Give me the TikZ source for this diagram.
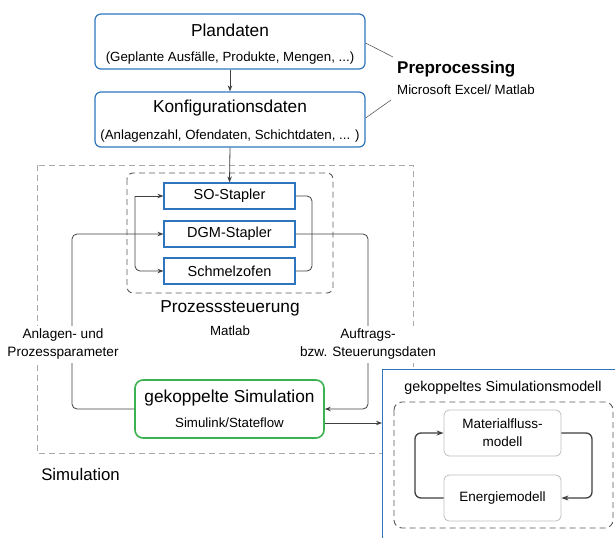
\documentclass[tikz,border=0pt]{standalone}
\usepackage{fontspec}
\setmainfont{Liberation Sans}
\usetikzlibrary{arrows.meta}
\definecolor{bl}{RGB}{46,117,190}
\definecolor{gr}{RGB}{60,178,80}
\definecolor{dk}{RGB}{64,64,64}
\definecolor{lg}{RGB}{170,170,170}
\definecolor{mg}{RGB}{90,90,90}
\definecolor{bx}{RGB}{190,190,190}
\newcommand{\fs}[1]{\fontsize{#1pt}{#1pt}\selectfont\baselineskip=1.2\baselineskip}
\tikzset{
  datbox/.style={draw=bl, line width=1.2pt, rounded corners=6pt, minimum width=270pt, minimum height=55pt, inner sep=0pt},
  stapbox/.style={draw=bl, line width=1.1pt, fill=white, minimum width=131pt, minimum height=26pt, inner sep=0pt, font=\fs{14.5}},
  simbox/.style={draw=gr, line width=1.6pt, rounded corners=8pt, minimum width=189pt, minimum height=58pt, inner sep=0pt},
  modbox/.style={draw=bx, line width=0.8pt, rounded corners=5pt, fill=white, minimum width=117pt, minimum height=46pt, inner sep=0pt, font=\fs{13.5}, align=center},
  conn/.style={draw=dk, line width=0.8pt, rounded corners=5pt},
  arr/.style={conn, -{Stealth[length=6pt,width=4.5pt]}},
  thickarr/.style={draw=dk, line width=1.3pt, rounded corners=6pt, -{Stealth[length=7pt,width=5pt]}},
  lbl/.style={inner sep=0pt, align=center},
  whitelbl/.style={fill=white, inner sep=0pt, align=center, font=\fs{13.6}},
}
\begin{document}
\begin{tikzpicture}[x=1pt,y=-1pt]
\useasboundingbox (0,0) rectangle (615,538);
% outer simulation dashed frame
\draw[lg, line width=0.9pt, dash pattern=on 6pt off 4pt] (37,165) rectangle (413,453);
% Prozesssteuerung dashed frame
\draw[mg, line width=0.9pt, dash pattern=on 6pt off 4pt, rounded corners=6pt] (127,173) rectangle (333,293);

% data boxes
\node[datbox] (plan) at (230,41.5) {};
\node[lbl, font=\fs{17.3}] (plant) at (230,30) {Plandaten};
\node[lbl, font=\fs{13.3}] (plans) at (230,58) {(Geplante Ausfälle, Produkte, Mengen, ...)};
\node[datbox] (konf) at (230,119.5) {};
\node[lbl, font=\fs{17.3}] (konft) at (230,108) {Konfigurationsdaten};
\node[lbl, font=\fs{13.3}] (konfs) at (230,136) {(Anlagenzahl, Ofendaten, Schichtdaten, ... )};

% preprocessing
\node[lbl, anchor=west, font=\bfseries\fs{17}] (prep) at (397,69) {Preprocessing};
\node[lbl, anchor=west, font=\fs{13.3}] (excel) at (397,90) {Microsoft Excel/ Matlab};
\coordinate (p1) at (393,57);
\coordinate (p2) at (391,100);
\draw[mg, line width=0.6pt] (plan.east |- 0,43) -- (p1);
\draw[mg, line width=0.6pt] (konf.east |- 0,118) -- (p2);

% stapler boxes
\node[stapbox] (so) at (229.5,196) {SO-Stapler};
\node[stapbox] (dgm) at (229.5,234) {DGM-Stapler};
\node[stapbox] (ofen) at (229.5,271) {Schmelzofen};

\draw[arr] (plan.south) -- (konf.north);
\draw[arr] (konf.south) -- (so.north);

% brackets
\coordinate (lb1) at (135,196);
\coordinate (lb2) at (135,271);
\draw[arr] (lb1) -- (so.west);
\draw[arr, rounded corners=5pt] (lb1) -- (lb2) -- (ofen.west);
\draw[conn] (so.east) -- (312,196) -- (312,271) -- (ofen.east);

% gekoppelte Simulation
\node[simbox] (sim) at (229.5,409) {};
\node[lbl, font=\fs{17.3}] (simt) at (229.5,398) {gekoppelte Simulation};
\node[lbl, font=\fs{13.3}] (sims) at (229.5,423) {Simulink/Stateflow};

\draw[arr] (sim.west) -- (72,409) -- (72,234) -- (dgm.west);
\draw[arr] (dgm.east) -- (368,234) -- (368,409) -- (sim.east);

% labels
\node[lbl, font=\fs{17.3}] (proz) at (230,308) {Prozesssteuerung};
\node[lbl, font=\fs{13.3}] (matlab) at (230,331) {Matlab};
\node[whitelbl, minimum width=128pt, minimum height=37pt] (lleft) at (63,344) {Anlagen- und\\[1pt]Prozessparameter};
\node[whitelbl, minimum width=146pt, minimum height=37pt] (lright) at (368,344) {Auftrags-\\[1pt]bzw. Steuerungsdaten};
\node[lbl, font=\fs{16.8}] (simlbl) at (80.5,474) {Simulation};

% blue model frame
\fill[white] (382,369) rectangle (615,538);
\draw[bl, line width=0.9pt] (615,369) -- (382,369) -- (382,538);
\coordinate (bin) at (382,423);
\draw[arr] (sim.east |- bin) -- (bin);

\node[lbl, font=\fs{14.3}] (gmod) at (503,388) {gekoppeltes Simulationsmodell};
\draw[mg, line width=0.9pt, dash pattern=on 6pt off 4pt, rounded corners=8pt] (394,402) rectangle (613,528);
\node[modbox] (mat) at (502.5,433) {Materialfluss-\\[2pt]modell};
\node[modbox] (ene) at (502.5,498) {Energiemodell};
\draw[thickarr] (ene.west) -- (415,498) -- (415,433) -- (mat.west);
\draw[thickarr] (mat.east) -- (592,433) -- (592,498) -- (ene.east);
\end{tikzpicture}
\end{document}
